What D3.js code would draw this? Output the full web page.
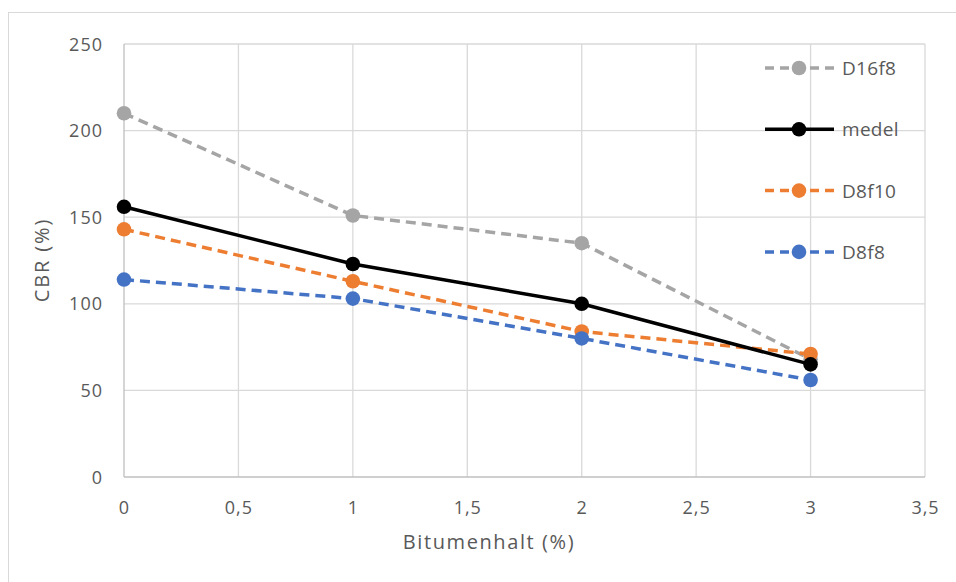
<!DOCTYPE html>
<html>
<head>
<meta charset="utf-8">
<script src="https://cdn.jsdelivr.net/npm/d3@7"></script>
<style>
  body { margin: 0; background: #fff; }
  text { font-family: "Open Sans", "Noto Sans", sans-serif; fill: #595959; }
</style>
</head>
<body>
<div id="chart"></div>
<script>
// data
const xValues = [0, 1, 2, 3];
const seriesNames = ["D16f8", "medel", "D8f10", "D8f8"];
const d16f8 = [210, 151, 135, 68];
const medel = [156, 123, 100, 65];
const d8f10 = [143, 113, 84, 71];
const d8f8 = [114, 103, 80, 56];
const xTicks = [0, 0.5, 1, 1.5, 2, 2.5, 3, 3.5];
const yTicks = [0, 50, 100, 150, 200, 250];

const seriesColors = ["#a5a5a5", "#000000", "#ed7d31", "#4472c4"];
const seriesDash = ["10,6", null, "10,6", "10,6"];
const seriesData = [d16f8, medel, d8f10, d8f8];
const drawOrder = [0, 2, 3, 1];

const width = 956, height = 582;
const margin = {top: 44, right: 31, bottom: 105, left: 124};
const plotW = width - margin.left - margin.right;
const plotH = height - margin.top - margin.bottom;

const svg = d3.select("#chart").append("svg")
    .attr("width", width)
    .attr("height", height);

// outer chart border
svg.append("rect")
    .attr("x", 8.5).attr("y", 12.5)
    .attr("width", 960).attr("height", 600)
    .attr("fill", "none")
    .attr("stroke", "#d9d9d9")
    .attr("stroke-width", 1);

const g = svg.append("g")
    .attr("transform", `translate(${margin.left}, ${margin.top})`);

const x = d3.scaleLinear().domain([0, 3.5]).range([0, plotW]);
const y = d3.scaleLinear().domain([0, 250]).range([plotH, 0]);

// gridlines
g.selectAll("line.vgrid").data(xTicks.slice(1)).enter().append("line")
    .attr("x1", d => x(d)).attr("x2", d => x(d))
    .attr("y1", 0).attr("y2", plotH)
    .attr("stroke", "#d9d9d9").attr("stroke-width", 1.3);

g.selectAll("line.hgrid").data(yTicks.slice(1)).enter().append("line")
    .attr("x1", 0).attr("x2", plotW)
    .attr("y1", d => y(d)).attr("y2", d => y(d))
    .attr("stroke", "#d9d9d9").attr("stroke-width", 1.3);

// axis lines
g.append("line").attr("x1", 0).attr("x2", 0).attr("y1", 0).attr("y2", plotH)
    .attr("stroke", "#bfbfbf").attr("stroke-width", 1.3);
g.append("line").attr("x1", 0).attr("x2", plotW).attr("y1", plotH).attr("y2", plotH)
    .attr("stroke", "#bfbfbf").attr("stroke-width", 1.3);

// tick labels
g.selectAll("text.xt").data(xTicks).enter().append("text")
    .attr("x", d => x(d) + 0.5)
    .attr("y", plotH + 37)
    .attr("text-anchor", "middle")
    .style("font-size", "18px")
    .style("letter-spacing", "1px")
    .text(d => String(d).replace(".", ","));

g.selectAll("text.yt").data(yTicks).enter().append("text")
    .attr("x", -21)
    .attr("y", d => y(d) + 6.5)
    .attr("text-anchor", "end")
    .style("font-size", "18px")
    .style("letter-spacing", "1px")
    .text(d => d);

// axis titles
g.append("text")
    .attr("x", 489 - margin.left)
    .attr("y", plotH + 72)
    .attr("text-anchor", "middle")
    .style("font-size", "20px")
    .style("letter-spacing", "1.6px")
    .text("Bitumenhalt (%)");

g.append("text")
    .attr("transform", "rotate(-90)")
    .attr("x", -(260 - margin.top))
    .attr("y", 49 - margin.left)
    .attr("text-anchor", "middle")
    .style("font-size", "20px")
    .style("letter-spacing", "1.9px")
    .text("CBR (%)");

// lines and markers
const line = d3.line()
    .x((d, i) => x(xValues[i]))
    .y(d => y(d));

drawOrder.forEach(function (s) {
    const vals = seriesData[s];
    g.append("path")
        .datum(vals)
        .attr("d", line)
        .attr("fill", "none")
        .attr("stroke", seriesColors[s])
        .attr("stroke-width", 3.5)
        .attr("stroke-dasharray", seriesDash[s]);

    g.selectAll(null).data(vals).enter().append("circle")
        .attr("cx", (d, i) => x(xValues[i]))
        .attr("cy", d => y(d))
        .attr("r", 7.3)
        .attr("fill", seriesColors[s]);
});

// legend
seriesNames.forEach(function (name, s) {
    const ly = 68 + s * 61.3;
    svg.append("line")
        .attr("x1", 765).attr("x2", 834)
        .attr("y1", ly).attr("y2", ly)
        .attr("stroke", seriesColors[s])
        .attr("stroke-width", 3.5)
        .attr("stroke-dasharray", seriesDash[s] ? "9,6" : null);
    svg.append("circle")
        .attr("cx", 799).attr("cy", ly).attr("r", 7.3)
        .attr("fill", seriesColors[s]);
    svg.append("text")
        .attr("x", 842).attr("y", ly + 7)
        .style("font-size", "19px")
        .style("letter-spacing", "0.3px")
        .text(name);
});
</script>
</body>
</html>
